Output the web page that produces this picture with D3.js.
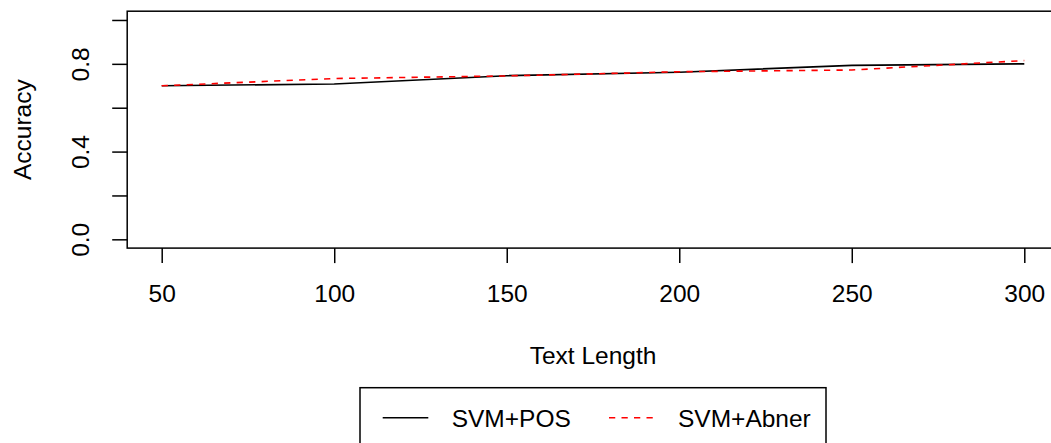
<!DOCTYPE html>
<html>
<head>
<meta charset="utf-8">
<script src="https://cdn.jsdelivr.net/npm/d3@7"></script>
<style>
  body { margin: 0; background: #fff; }
  svg { display: block; font-family: "Liberation Sans", Arial, Helvetica, sans-serif; }
</style>
</head>
<body>
<div id="chart"></div>
<script>
var textLength = [50, 100, 150, 200, 250, 300];
var svmPos = [0.70, 0.708, 0.746, 0.762, 0.793, 0.80];
var svmAbner = [0.70, 0.733, 0.745, 0.764, 0.772, 0.815];
var yTicks = [0, 0.2, 0.4, 0.6, 0.8, 1.0];
var yTickLabels = ["0.0", "", "0.4", "", "0.8", ""];
var seriesNames = ["SVM+POS", "SVM+Abner"];

var width = 1051, height = 443;
var fontSize = 24.5;

var svg = d3.select("#chart").append("svg")
    .attr("width", width)
    .attr("height", height);

// R style: data range padded 4% each side
var x = d3.scaleLinear().domain([40, 310]).range([127.2, 1058.8]);
var y = d3.scaleLinear().domain([-0.04, 1.04]).range([248.1, 11.2]);

// plot box
svg.append("rect")
    .attr("x", x(40))
    .attr("y", y(1.04))
    .attr("width", x(310) - x(40))
    .attr("height", y(-0.04) - y(1.04))
    .attr("fill", "none")
    .attr("stroke", "#000")
    .attr("stroke-width", 1.5);

// x axis
var xAxis = svg.append("g")
    .attr("transform", "translate(0," + y(-0.04) + ")")
    .call(d3.axisBottom(x).tickValues(textLength).tickSize(15).tickFormat(d3.format("d")));
xAxis.select(".domain").remove();
xAxis.selectAll("line").attr("stroke", "#000").attr("stroke-width", 1.5);
xAxis.selectAll("text")
    .attr("y", 54)
    .attr("dy", 0)
    .attr("fill", "#000")
    .style("font-size", fontSize + "px")
    .style("font-family", "Liberation Sans, Arial, sans-serif");

// y axis
var yAxis = svg.append("g")
    .attr("transform", "translate(" + x(40) + ",0)")
    .call(d3.axisLeft(y).tickValues(yTicks).tickSize(15).tickFormat((d, i) => yTickLabels[i]));
yAxis.select(".domain").remove();
yAxis.selectAll("line").attr("stroke", "#000").attr("stroke-width", 1.5);
yAxis.selectAll("text")
    .attr("x", 0)
    .attr("y", 0)
    .attr("dy", 0)
    .attr("text-anchor", "middle")
    .attr("transform", "translate(" + (89 - x(40)) + ",0) rotate(-90)")
    .attr("fill", "#000")
    .style("font-size", fontSize + "px")
    .style("font-family", "Liberation Sans, Arial, sans-serif");

// axis titles
svg.append("text")
    .attr("x", (x(40) + x(310)) / 2)
    .attr("y", 363.5)
    .attr("text-anchor", "middle")
    .style("font-size", fontSize + "px")
    .text("Text Length");

svg.append("text")
    .attr("transform", "translate(31," + (y(-0.04) + y(1.04)) / 2 + ") rotate(-90)")
    .attr("text-anchor", "middle")
    .style("font-size", fontSize + "px")
    .text("Accuracy");

// lines
var line = d3.line()
    .x((d, i) => x(textLength[i]))
    .y(d => y(d));

svg.append("path")
    .datum(svmPos)
    .attr("d", line)
    .attr("fill", "none")
    .attr("stroke", "#000")
    .attr("stroke-width", 1.6);

svg.append("path")
    .datum(svmAbner)
    .attr("d", line)
    .attr("fill", "none")
    .attr("stroke", "#ff0000")
    .attr("stroke-width", 1.6)
    .attr("stroke-dasharray", "6.25,6.25");

// legend
var legend = svg.append("g");
legend.append("rect")
    .attr("x", 360)
    .attr("y", 387.7)
    .attr("width", 826 - 360)
    .attr("height", 80)
    .attr("fill", "#fff")
    .attr("stroke", "#000")
    .attr("stroke-width", 1.5);

var legendX = [382.7, 609];
var legendStyle = [
    { stroke: "#000", dash: null },
    { stroke: "#ff0000", dash: "6.25,6.25" }
];

seriesNames.forEach(function (name, i) {
    legend.append("line")
        .attr("x1", legendX[i])
        .attr("x2", legendX[i] + 45.6)
        .attr("y1", 417.7)
        .attr("y2", 417.7)
        .attr("stroke", legendStyle[i].stroke)
        .attr("stroke-width", 1.6)
        .attr("stroke-dasharray", legendStyle[i].dash);
    legend.append("text")
        .attr("x", legendX[i] + 69)
        .attr("y", 426.7)
        .style("font-size", fontSize + "px")
        .text(name);
});
</script>
</body>
</html>
